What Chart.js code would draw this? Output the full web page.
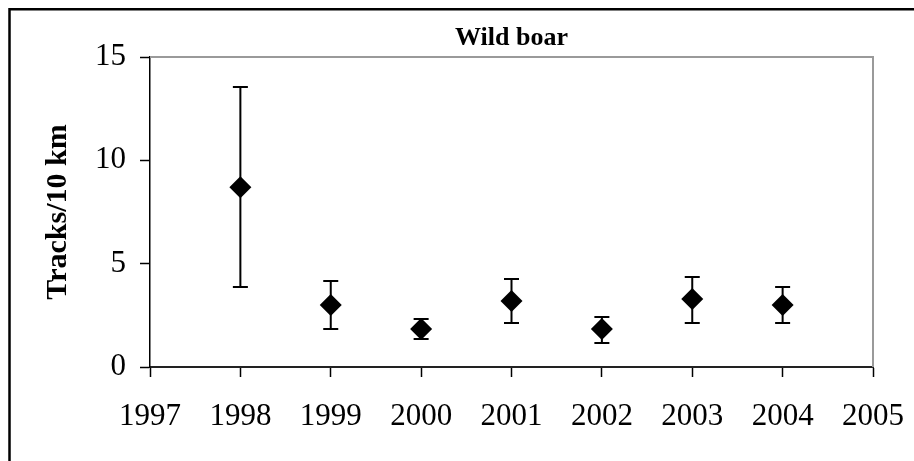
<!DOCTYPE html>
<html>
<head>
<meta charset="utf-8">
<title>Wild boar</title>
<script src="https://cdn.jsdelivr.net/npm/chart.js@4/dist/chart.umd.min.js"></script>
<style>
    html, body { margin: 0; padding: 0; background: #fff; }
    canvas { display: block; }
</style>
</head>
<body>
<canvas id="boarChart" width="914" height="461"></canvas>
<script>
/* ============================
   DATOS
============================ */
const YEARS = [1998, 1999, 2000, 2001, 2002, 2003, 2004];
const MEANS = [8.7, 3.0, 1.84, 3.19, 1.84, 3.29, 3.0];
const UPPER = [13.55, 4.16, 2.32, 4.26, 2.42, 4.35, 3.87];
const LOWER = [3.87, 1.84, 1.35, 2.13, 1.16, 2.13, 2.13];

const X_TICKS = [1997, 1998, 1999, 2000, 2001, 2002, 2003, 2004, 2005];
const Y_TICKS = [0, 5, 10, 15];

const TITLE = "Wild boar";
const Y_LABEL = "Tracks/10 km";

const SERIF = "'Liberation Serif', 'Times New Roman', serif";

/* ============================
   PLUGINS
============================ */
// marco exterior (solo se ven borde izquierdo y superior)
const outerFrame = {
    id: "outerFrame",
    beforeDraw(chart) {
        const ctx = chart.ctx;
        ctx.save();
        ctx.strokeStyle = "#000";
        ctx.lineWidth = 2.5;
        ctx.strokeRect(9.5, 9.25, 1200, 1200);
        ctx.restore();
    }
};

// borde gris del área de trazado (arriba y derecha)
const plotFrame = {
    id: "plotFrame",
    beforeDatasetsDraw(chart) {
        const { ctx, chartArea: a } = chart;
        ctx.save();
        ctx.strokeStyle = "#9a9a9a";
        ctx.lineWidth = 2;
        ctx.beginPath();
        ctx.moveTo(a.left, a.top);
        ctx.lineTo(a.right, a.top);
        ctx.lineTo(a.right, a.bottom);
        ctx.stroke();
        ctx.restore();
    }
};

// barras de error con remate
const errorBars = {
    id: "errorBars",
    beforeDatasetsDraw(chart) {
        const { ctx, scales: { x, y } } = chart;
        const cap = 7.5;
        ctx.save();
        ctx.strokeStyle = "#000";
        ctx.lineWidth = 2;
        YEARS.forEach((yr, i) => {
            const px = x.getPixelForValue(yr);
            const top = y.getPixelForValue(UPPER[i]);
            const bot = y.getPixelForValue(LOWER[i]);
            ctx.beginPath();
            ctx.moveTo(px, top);
            ctx.lineTo(px, bot);
            ctx.moveTo(px - cap, top);
            ctx.lineTo(px + cap, top);
            ctx.moveTo(px - cap, bot);
            ctx.lineTo(px + cap, bot);
            ctx.stroke();
        });
        ctx.restore();
    }
};

// título centrado sobre el área de trazado
const plotTitle = {
    id: "plotTitle",
    afterDraw(chart) {
        const { ctx, chartArea: a } = chart;
        ctx.save();
        ctx.fillStyle = "#000";
        ctx.font = `bold 26px ${SERIF}`;
        ctx.textAlign = "center";
        ctx.textBaseline = "alphabetic";
        ctx.fillText(TITLE, (a.left + a.right) / 2, 45);
        ctx.restore();
    }
};

/* ============================
   CHART
============================ */
new Chart(document.getElementById("boarChart"), {
    type: "scatter",
    data: {
        datasets: [{
            data: YEARS.map((yr, i) => ({ x: yr, y: MEANS[i] })),
            pointStyle: "rectRot",
            pointRadius: 11,
            pointHoverRadius: 11,
            backgroundColor: "#000",
            borderColor: "#000",
            borderWidth: 0,
            showLine: false
        }]
    },
    options: {
        responsive: false,
        devicePixelRatio: 1,
        animation: false,
        layout: { padding: { top: 57, right: 41, left: 0, bottom: 0 } },
        plugins: {
            legend: { display: false },
            title: { display: false },
            tooltip: { enabled: false }
        },
        scales: {
            x: {
                type: "linear",
                min: 1997,
                max: 2005,
                afterBuildTicks: s => { s.ticks = X_TICKS.map(v => ({ value: v })); },
                afterFit: s => {
                    s.height = 94;
                    s.paddingLeft = 0;
                    s.paddingRight = 0;
                },
                grid: {
                    drawOnChartArea: false,
                    drawTicks: true,
                    tickLength: 10,
                    tickColor: "#000",
                    tickWidth: 1.5
                },
                border: { display: true, color: "#222", width: 2 },
                ticks: {
                    color: "#000",
                    padding: 21,
                    maxRotation: 0,
                    font: { family: SERIF, size: 31 },
                    callback: v => String(v)
                }
            },
            y: {
                min: 0,
                max: 15,
                afterBuildTicks: s => { s.ticks = Y_TICKS.map(v => ({ value: v })); },
                afterFit: s => {
                    s.width = 150;
                    s.paddingTop = 0;
                    s.paddingBottom = 0;
                },
                grid: {
                    drawOnChartArea: false,
                    drawTicks: true,
                    tickLength: 10,
                    tickColor: "#000",
                    tickWidth: 1.5
                },
                border: { display: true, color: "#000", width: 1.5 },
                ticks: {
                    color: "#000",
                    padding: 14,
                    font: { family: SERIF, size: 31 },
                    callback: v => String(v)
                },
                title: {
                    display: true,
                    text: Y_LABEL,
                    color: "#000",
                    padding: { top: 40, bottom: 0 },
                    font: { family: SERIF, size: 30, weight: "bold" }
                }
            }
        }
    },
    plugins: [outerFrame, plotFrame, errorBars, plotTitle]
});
</script>
</body>
</html>
